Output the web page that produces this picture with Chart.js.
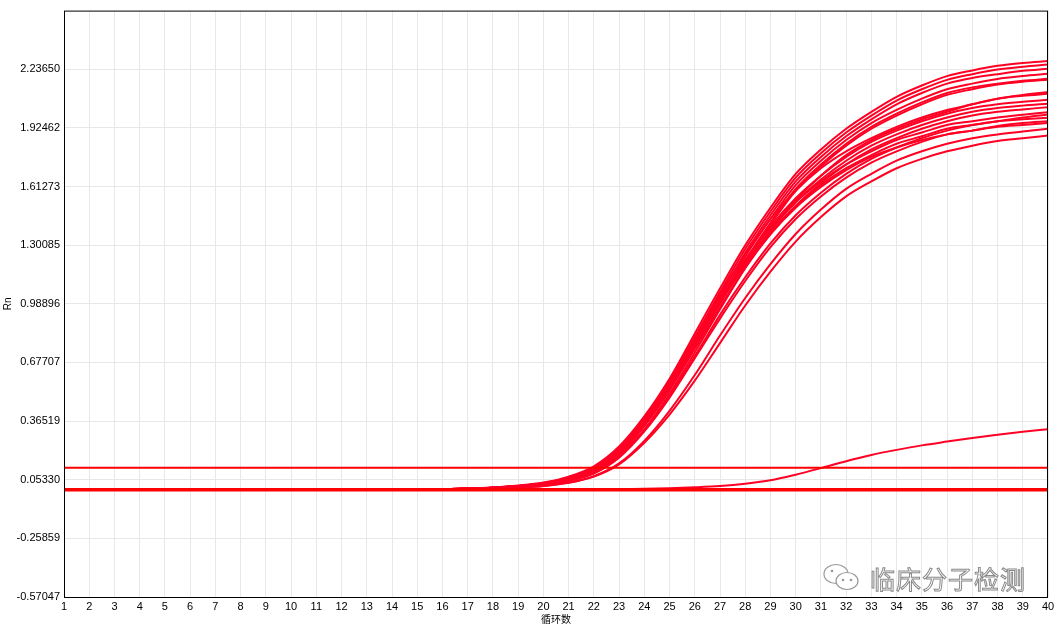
<!DOCTYPE html>
<html>
<head>
<meta charset="utf-8">
<script src="https://cdn.jsdelivr.net/npm/chart.js@4"></script>
<style>
  body { margin: 0; background: #fff; }
  #wrap { position: relative; width: 1062px; height: 625px; }
  #mark {
    position: absolute; left: 822px; top: 560px;
    font-family: "Noto Sans CJK SC", sans-serif; font-size: 25px;
    color: #fff; -webkit-text-stroke: 1px #8a8a8a; letter-spacing: 1px;
    display: flex; align-items: center;
  }
  #mark svg { margin-right: 8px; }
</style>
</head>
<body>
<div id="wrap">
  <canvas id="pcr" width="1062" height="625"></canvas>
  <div id="mark">
    <svg width="40" height="30" viewBox="0 0 40 30">
      <ellipse cx="14" cy="11" rx="12" ry="9.5" fill="#fff" stroke="#999" stroke-width="1.2"/>
      <ellipse cx="25" cy="18" rx="11" ry="8.5" fill="#fff" stroke="#999" stroke-width="1.2"/>
      <circle cx="21" cy="17" r="1.3" fill="#999"/><circle cx="29" cy="17" r="1.3" fill="#999"/>
      <circle cx="10" cy="8" r="1.3" fill="#999"/>
    </svg>
    临床分子检测
  </div>
</div>
<script>
// cycle numbers for the axis, and the cycles where the wells are plotted
const axisCycles = [1,2,3,4,5,6,7,8,9,10,11,12,13,14,15,16,17,18,19,20,21,22,23,24,25,26,27,28,29,30,31,32,33,34,35,36,37,38,39,40];
const cycles = [15,16,17,18,19,20,21,22,23,24,25,26,27,28,29,30,31,32,33,34,35,36,37,38,39,40];
const yTicks = [-0.57047, -0.25859, 0.05330, 0.36519, 0.67707, 0.98896, 1.30085, 1.61273, 1.92462, 2.23650];

const threshold = 0.117;
const baseline = 0;

// amplification curves (Rn), cycles 15..40
const well01 = [0,0.003,0.006,0.012,0.022,0.038,0.07,0.125,0.23,0.39,0.59,0.83,1.07,1.30,1.50,1.68,1.81,1.92,2.01,2.09,2.15,2.20,2.23,2.255,2.27,2.28];
const well02 = [0,0.003,0.006,0.011,0.02,0.036,0.066,0.118,0.22,0.38,0.58,0.81,1.05,1.28,1.48,1.66,1.79,1.90,1.99,2.07,2.13,2.18,2.21,2.235,2.25,2.262];
const well03 = [0,0.003,0.006,0.011,0.02,0.035,0.063,0.112,0.21,0.37,0.57,0.80,1.03,1.26,1.46,1.64,1.77,1.88,1.97,2.05,2.11,2.16,2.19,2.21,2.228,2.239];
const well04 = [0,0.003,0.005,0.01,0.019,0.033,0.06,0.107,0.20,0.35,0.55,0.78,1.01,1.24,1.44,1.62,1.75,1.86,1.95,2.02,2.08,2.13,2.16,2.185,2.20,2.212];
const well05 = [0,0.003,0.005,0.01,0.018,0.032,0.058,0.104,0.20,0.35,0.54,0.77,1.00,1.22,1.42,1.60,1.73,1.84,1.93,2.00,2.06,2.11,2.14,2.16,2.175,2.186];
const well06 = [0,0.002,0.005,0.009,0.017,0.03,0.055,0.10,0.19,0.34,0.53,0.76,0.99,1.21,1.41,1.59,1.72,1.83,1.92,1.99,2.05,2.10,2.13,2.155,2.17,2.181];
const well07 = [0,0.003,0.006,0.011,0.02,0.035,0.064,0.115,0.22,0.38,0.58,0.81,1.04,1.25,1.44,1.59,1.71,1.80,1.87,1.93,1.98,2.02,2.05,2.08,2.10,2.115];
const well08 = [0,0.002,0.004,0.008,0.015,0.027,0.05,0.092,0.18,0.32,0.51,0.73,0.96,1.18,1.38,1.54,1.67,1.78,1.86,1.92,1.97,2.01,2.05,2.08,2.095,2.106];
const well09 = [0,0.003,0.006,0.011,0.02,0.034,0.062,0.11,0.21,0.37,0.57,0.79,1.01,1.22,1.40,1.55,1.67,1.77,1.85,1.91,1.96,2.00,2.03,2.05,2.063,2.074];
const well10 = [0,0.003,0.005,0.01,0.018,0.031,0.057,0.103,0.20,0.35,0.55,0.77,0.99,1.20,1.38,1.53,1.65,1.75,1.83,1.89,1.94,1.98,2.01,2.03,2.043,2.053];
const well11 = [0,0.002,0.005,0.009,0.016,0.029,0.053,0.097,0.19,0.34,0.53,0.75,0.97,1.18,1.36,1.51,1.63,1.73,1.81,1.87,1.92,1.96,1.99,2.01,2.023,2.035];
const well12 = [0,0.003,0.006,0.011,0.02,0.035,0.064,0.114,0.22,0.38,0.58,0.80,1.02,1.22,1.39,1.53,1.64,1.73,1.80,1.86,1.90,1.94,1.96,1.98,1.995,2.008];
const well13 = [0,0.002,0.004,0.008,0.015,0.026,0.048,0.09,0.18,0.32,0.50,0.71,0.93,1.13,1.31,1.46,1.58,1.68,1.76,1.82,1.87,1.91,1.94,1.96,1.98,1.996];
const well14 = [0,0.003,0.005,0.01,0.018,0.032,0.058,0.105,0.20,0.36,0.56,0.78,1.00,1.20,1.37,1.51,1.62,1.71,1.78,1.84,1.88,1.92,1.94,1.96,1.97,1.978];
const well15 = [0,0.002,0.004,0.008,0.014,0.025,0.046,0.086,0.17,0.31,0.49,0.70,0.91,1.11,1.29,1.44,1.56,1.66,1.74,1.80,1.85,1.89,1.91,1.935,1.95,1.96];
const well16 = [0,0.003,0.006,0.011,0.02,0.034,0.062,0.11,0.21,0.37,0.57,0.79,1.00,1.19,1.36,1.50,1.61,1.70,1.77,1.82,1.86,1.89,1.91,1.93,1.94,1.95];
const well17 = [0,0.002,0.003,0.006,0.011,0.02,0.038,0.072,0.14,0.26,0.42,0.61,0.82,1.02,1.20,1.36,1.49,1.60,1.68,1.75,1.80,1.84,1.87,1.89,1.905,1.92];
const well18 = [0,0.002,0.003,0.006,0.011,0.02,0.037,0.07,0.135,0.25,0.40,0.58,0.78,0.98,1.16,1.32,1.45,1.56,1.64,1.71,1.76,1.80,1.83,1.855,1.87,1.884];
// late well, crosses threshold near cycle 31
const well19 = [0,0,0,0,0,0,0.001,0.002,0.003,0.005,0.008,0.013,0.02,0.032,0.05,0.08,0.115,0.152,0.185,0.212,0.236,0.256,0.275,0.292,0.308,0.322];

const wells = [well01, well02, well03, well04, well05, well06, well07, well08, well09, well10,
               well11, well12, well13, well14, well15, well16, well17, well18, well19];

const curveColor = '#ff0024';

const datasets = [];
// baseline and threshold across the whole run
datasets.push({
  data: [{x: axisCycles[0], y: baseline}, {x: axisCycles[axisCycles.length - 1], y: baseline}],
  borderColor: '#ff0000', borderWidth: 3.5, pointRadius: 0
});
datasets.push({
  data: [{x: axisCycles[0], y: threshold}, {x: axisCycles[axisCycles.length - 1], y: threshold}],
  borderColor: '#ff0000', borderWidth: 2, pointRadius: 0
});
wells.forEach(w => {
  datasets.push({
    data: cycles.map((c, i) => ({x: c, y: w[i]})),
    borderColor: curveColor, borderWidth: 2, pointRadius: 0,
    cubicInterpolationMode: 'monotone'
  });
});

const frame = {
  id: 'frame',
  afterDraw(chart) {
    const {ctx, chartArea: a} = chart;
    ctx.save();
    ctx.strokeStyle = '#000';
    ctx.lineWidth = 1;
    ctx.strokeRect(a.left + 0.5, a.top + 0.5, a.right - a.left - 1, a.bottom - a.top);
    ctx.restore();
  }
};

new Chart(document.getElementById('pcr'), {
  type: 'line',
  data: { datasets: datasets },
  options: {
    responsive: false,
    animation: false,
    layout: { padding: { top: 10, right: 14, left: 0, bottom: 0 } },
    plugins: { legend: { display: false }, tooltip: { enabled: false } },
    scales: {
      x: {
        type: 'linear', min: 1, max: 40,
        afterBuildTicks: s => { s.ticks = axisCycles.map(v => ({value: v})); },
        afterFit: s => { s.height = 28; },
        grid: { color: '#e8e8e8', drawTicks: false },
        border: { display: false },
        ticks: { color: '#000', font: { family: 'Liberation Sans', size: 11 }, padding: 3, maxRotation: 0, autoSkip: false },
        title: { display: true, text: '循环数', color: '#000', font: { family: 'Noto Sans CJK SC', size: 10 }, padding: 0 }
      },
      y: {
        min: -0.57047, max: 2.54839,
        afterBuildTicks: s => { s.ticks = yTicks.map(v => ({value: v})); },
        afterFit: s => { s.width = 64; },
        grid: { color: '#e8e8e8', drawTicks: false },
        border: { display: false },
        ticks: { color: '#000', font: { family: 'Liberation Sans', size: 11 }, padding: 4,
                 callback: v => v.toFixed(5) },
        title: { display: true, text: 'Rn', color: '#000', font: { family: 'Liberation Sans', size: 10 }, padding: { top: 2, bottom: 0 } }
      }
    }
  },
  plugins: [frame]
});
</script>
</body>
</html>
